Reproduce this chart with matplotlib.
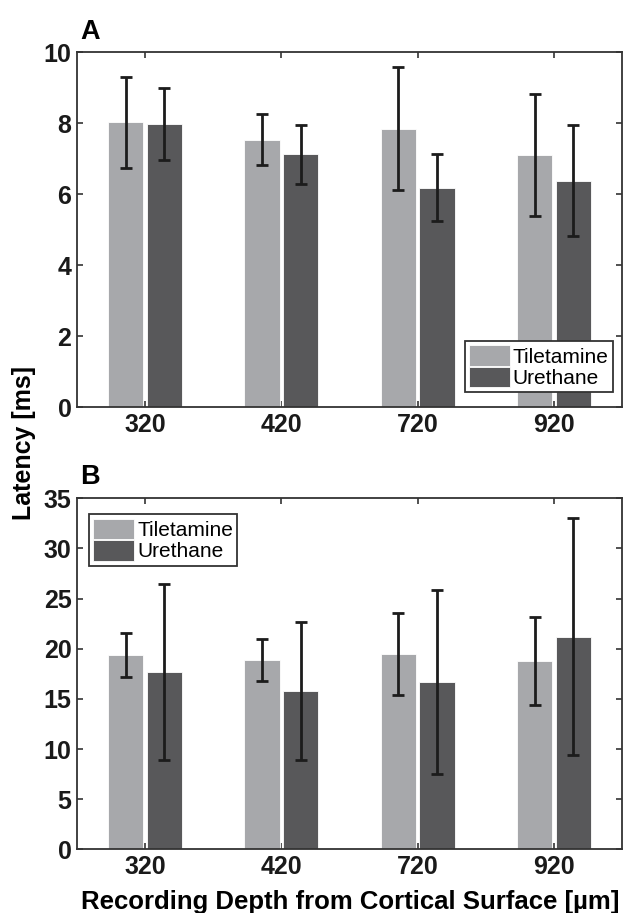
import matplotlib
matplotlib.use("Agg")
import matplotlib.pyplot as plt
import numpy as np

plt.rcParams['font.family'] = ['Liberation Sans', 'DejaVu Sans']

depths = ["320", "420", "720", "920"]
groups = ["Tiletamine", "Urethane"]

# Panel A: latency [ms], mean and error
lat_a_tile = [8.03, 7.53, 7.85, 7.10]
err_a_tile = [1.28, 0.72, 1.73, 1.72]
lat_a_ure = [7.97, 7.12, 6.18, 6.38]
err_a_ure = [1.02, 0.82, 0.95, 1.57]

# Panel B: latency [ms], mean and error
lat_b_tile = [19.4, 18.9, 19.5, 18.8]
err_b_tile = [2.2, 2.1, 4.1, 4.4]
lat_b_ure = [17.7, 15.8, 16.7, 21.2]
err_b_ure = [8.8, 6.9, 9.2, 11.8]

yticks_a = [0, 2, 4, 6, 8, 10]
yticks_b = [0, 5, 10, 15, 20, 25, 30, 35]

c_light = "#a7a8ab"
c_dark = "#58585a"
c_err = "#1c1c1c"
c_spine = "#333333"

W, H = 623, 913
fig = plt.figure(figsize=(W / 100, H / 100), dpi=100)

def px_axes(left, top, right, bottom):
    return fig.add_axes([left / W, 1 - bottom / H, (right - left) / W, (bottom - top) / H])

ax_a = px_axes(77, 52.3, 622, 407)
ax_b = px_axes(77, 498.3, 622, 849.3)

x = np.arange(1, len(depths) + 1)
off = 0.142
bw = 0.26

def draw(ax, t, te, u, ue, yticks, ymax):
    ax.bar(x - off, t, bw, color=c_light, edgecolor="white", linewidth=0.6, label=groups[0], zorder=2)
    ax.bar(x + off, u, bw, color=c_dark, edgecolor="white", linewidth=0.6, label=groups[1], zorder=2)
    ax.errorbar(x - off, t, yerr=te, fmt="none", ecolor=c_err, elinewidth=2, capsize=4.5, capthick=2, zorder=3)
    ax.errorbar(x + off, u, yerr=ue, fmt="none", ecolor=c_err, elinewidth=2, capsize=4.5, capthick=2, zorder=3)
    ax.set_xlim(0.5, 4.5)
    ax.set_ylim(0, ymax)
    ax.set_xticks(x)
    ax.set_xticklabels(depths)
    ax.set_yticks(yticks)
    ax.tick_params(direction="in", length=4.5, width=1.2, color=c_spine,
                   top=True, right=True, labelsize=18, pad=4)
    for lab in ax.get_xticklabels() + ax.get_yticklabels():
        lab.set_fontweight("bold")
        lab.set_color("#1a1a1a")
    for s in ax.spines.values():
        s.set_color(c_spine)
        s.set_linewidth(1.3)

draw(ax_a, lat_a_tile, err_a_tile, lat_a_ure, err_a_ure, yticks_a, 10)
draw(ax_b, lat_b_tile, err_b_tile, lat_b_ure, err_b_ure, yticks_b, 35)

leg_kw = dict(fontsize=15, frameon=True, fancybox=False, borderaxespad=0,
              handlelength=1.95, handleheight=1.15, handletextpad=0.15,
              labelspacing=0.0, borderpad=0.2)
leg_a = ax_a.legend(loc="lower right", bbox_to_anchor=(0.983, 0.042), **leg_kw)
leg_b = ax_b.legend(loc="upper left", bbox_to_anchor=(0.0226, 0.954), **leg_kw)
for leg in (leg_a, leg_b):
    fr = leg.get_frame()
    fr.set_edgecolor("#333333")
    fr.set_linewidth(1.3)
    fr.set_alpha(1)

fig.text(80 / W, 1 - 39 / H, "A", fontsize=19.5, fontweight="bold", ha="left", va="baseline")
fig.text(80.5 / W, 1 - 483.5 / H, "B", fontsize=19.5, fontweight="bold", ha="left", va="baseline")

fig.text(24 / W, 1 - 443 / H, "Latency [ms]", fontsize=18, fontweight="bold",
         rotation=90, ha="center", va="center")
fig.text(350 / W, 1 - 909 / H, "Recording Depth from Cortical Surface [µm]", fontsize=18.5,
         fontweight="bold", ha="center", va="baseline")

fig.savefig("out.png", dpi=100)
